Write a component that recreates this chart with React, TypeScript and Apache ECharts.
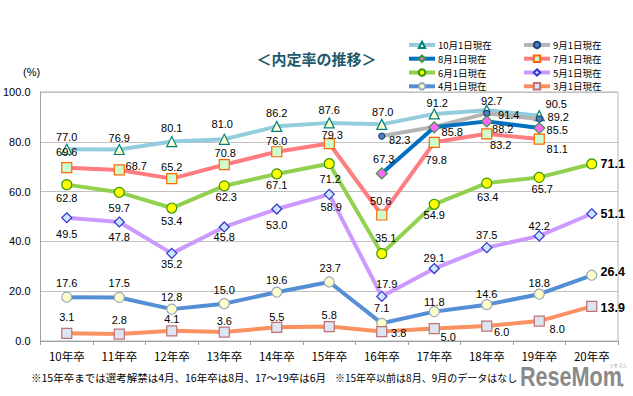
import React, { useEffect, useRef } from "react";
import * as echarts from "echarts";

const categories = ["10年卒", "11年卒", "12年卒", "13年卒", "14年卒", "15年卒", "16年卒", "17年卒", "18年卒", "19年卒", "20年卒"];
const seriesNames = ["10月1日現在", "9月1日現在", "8月1日現在", "7月1日現在", "6月1日現在", "5月1日現在", "4月1日現在", "3月1日現在"];

const oct = [77.0, 76.9, 80.1, 81.0, 86.2, 87.6, 87.0, 91.2, 92.7, 90.5, null];
const sep = [null, null, null, null, null, null, 82.3, 86.0, 91.4, 89.2, null];
const aug = [null, null, null, null, null, null, 67.3, 85.8, 88.2, 85.5, null];
const jul = [69.6, 68.7, 65.2, 70.8, 76.0, 79.3, 50.6, 79.8, 83.2, 81.1, null];
const jun = [62.8, 59.7, 53.4, 62.3, 67.1, 71.2, 35.1, 54.9, 63.4, 65.7, 71.1];
const may = [49.5, 47.8, 35.2, 45.8, 53.0, 58.9, 17.9, 29.1, 37.5, 42.2, 51.1];
const apr = [17.6, 17.5, 12.8, 15.0, 19.6, 23.7, 7.1, 11.8, 14.6, 18.8, 26.4];
const mar = [3.1, 2.8, 4.1, 3.6, 5.5, 5.8, 3.8, 5.0, 6.0, 8.0, 13.9];

// label placement (offset of label centre from marker centre), styling only
const octOff = [[0, -12], [0, -12], [0, -14], [-2, -15], [0, -13], [0, -13], [1, -12], [3, -11], [5, -9], [17, -12], null];
const sepOff = [null, null, null, null, null, null, [18, 4], null, [22, 2], [19, -2], null];
const augOff = [null, null, null, null, null, null, [2, -14], [18, 5], [16, 8], [18, 2], null];
const julOff = [[0, -16], [17, -4], [0, -12], [1, -12], [0, -11], [3, -9], [-1, -14], [2, 18], [14, 11], [18, 10], null];
const junOff = [[0, 13], [0, 16], [0, 13], [2, 11], [0, 11], [1, 15], [4, -16], [0, 11], [1, 14], [3, 12], [21, 0]];
const mayOff = [[0, 16], [0, 15], [0, 11], [0, 10], [0, 16], [2, 13], [5, -12], [0, -11], [0, -13], [0, -10], [21, 0]];
const aprOff = [[0, -14], [0, -14], [0, -12], [0, -14], [0, -12], [1, -14], [0, -15], [0, -10], [0, -11], [0, -11], [21, -3]];
const marOff = [[0, -16], [0, -14], [0, -12], [0, -11], [0, -10], [0, -12], [17, 1], [14, 8], [15, 6], [18, 8], [21, 2]];

const NUM_FONT = "Liberation Sans, Noto Sans CJK JP, sans-serif";
const JP_FONT = "Noto Sans CJK JP, sans-serif";

function build(values: (number | null)[], offs: (number[] | null)[]) {
  return values.map((v, i) => {
    if (v == null) return null;
    const off = offs[i];
    const last = i === values.length - 1;
    return {
      value: v,
      label: {
        show: off != null,
        position: "inside",
        offset: off || [0, 0],
        fontSize: last ? 12.5 : 11,
        fontWeight: last ? "bold" : "normal",
        color: "#000",
        fontFamily: NUM_FONT,
        formatter: (p: any) => Number(p.value).toFixed(1),
      },
    };
  });
}

type Sty = { color: string; symbol: string; size: number; fill: string; border: string };
const styles: Sty[] = [
  { color: "#93cddd", symbol: "triangle", size: 10, fill: "#ffffcc", border: "#008080" },
  { color: "#b4b4b4", symbol: "circle", size: 6, fill: "#4f81bd", border: "#1f3f7f" },
  { color: "#0070c0", symbol: "diamond", size: 11, fill: "#ff66ff", border: "#339933" },
  { color: "#ff7c80", symbol: "rect", size: 10, fill: "#ccffcc", border: "#ff6600" },
  { color: "#92d050", symbol: "circle", size: 10, fill: "#ffff00", border: "#339900" },
  { color: "#cc99ff", symbol: "diamond", size: 10, fill: "#cce6ff", border: "#3333cc" },
  { color: "#558ed5", symbol: "circle", size: 10, fill: "#ffffcc", border: "#99aabb" },
  { color: "#fb9060", symbol: "rect", size: 10, fill: "#dce6f2", border: "#c07070" },
];

export default function App() {
  const ref = useRef<HTMLDivElement>(null);
  useEffect(() => {
    if (!ref.current) return;
    const chart = echarts.init(ref.current, null, { renderer: "svg" });
    const datas = [
      build(oct, octOff),
      build(sep, sepOff),
      build(aug, augOff),
      build(jul, julOff),
      build(jun, junOff),
      build(may, mayOff),
      build(apr, aprOff),
      build(mar, marOff),
    ];
    const series = datas.map((d, k) => ({
      name: seriesNames[k],
      type: "line",
      data: d,
      symbol: styles[k].symbol,
      symbolSize: styles[k].size,
      showAllSymbol: true,
      connectNulls: false,
      lineStyle: { color: styles[k].color, width: 4 },
      itemStyle: { color: styles[k].fill, borderColor: styles[k].border, borderWidth: 1.2 },
      z: 2 + k,
    }));
    const legendCommon = {
      orient: "vertical",
      top: 38,
      itemWidth: 26,
      itemHeight: 8,
      itemGap: 0,
      padding: 0,
      lineStyle: { width: "inherit" },
      textStyle: { fontSize: 9.5, color: "#000", fontFamily: JP_FONT, lineHeight: 13.8, padding: [0, 0, 0, -2] },
    };
    chart.setOption({
      animation: false,
      backgroundColor: "#fff",
      grid: { left: 38, right: 15, top: 92, bottom: 55, show: true, borderColor: "#b4b4b4", borderWidth: 1 },
      legend: [
        { ...legendCommon, left: 407, data: [seriesNames[0], seriesNames[2], seriesNames[4], seriesNames[6]] },
        { ...legendCommon, left: 522, data: [seriesNames[1], seriesNames[3], seriesNames[5], seriesNames[7]] },
      ],
      xAxis: {
        type: "category",
        data: categories,
        boundaryGap: true,
        axisLine: { lineStyle: { color: "#a0a0a0" } },
        axisTick: { show: true, length: 4, lineStyle: { color: "#a0a0a0" } },
        axisLabel: { margin: 9, fontSize: 11.5, color: "#000", fontFamily: JP_FONT },
        splitLine: { show: false },
      },
      yAxis: {
        type: "value",
        min: 0,
        max: 100,
        interval: 20,
        axisLine: { show: true, lineStyle: { color: "#a0a0a0" } },
        axisTick: { show: false },
        axisLabel: { margin: 10, fontSize: 11, color: "#000", fontFamily: NUM_FONT, formatter: (v: number) => v.toFixed(1) },
        splitLine: { lineStyle: { color: "#c0c0c0" } },
      },
      graphic: [
        {
          type: "text",
          left: "center",
          top: 51,
          style: { text: "＜内定率の推移＞", fontSize: 15, fontWeight: "bold", fill: "#1e5a6a", fontFamily: JP_FONT },
        },
        { type: "text", left: 23, top: 66, style: { text: "(%)", fontSize: 11, fill: "#000", fontFamily: NUM_FONT } },
        {
          type: "text",
          left: 31,
          top: 372,
          style: { text: "※15年卒までは選考解禁は4月、16年卒は8月、17～19卒は6月", fontSize: 10.5, fill: "#000", fontFamily: JP_FONT },
        },
        {
          type: "text",
          left: 335,
          top: 372,
          style: { text: "※15年卒以前は8月、9月のデータはなし", fontSize: 10, fill: "#000", fontFamily: JP_FONT },
        },
        {
          type: "text",
          x: 520,
          y: 367,
          scaleX: 0.8,
          style: { text: "ReseMom", fontSize: 27, lineHeight: 20, fontWeight: "bold", fill: "#8a8a8a", fontFamily: "Liberation Sans, sans-serif" },
        },
        { type: "circle", shape: { cx: 622, cy: 385, r: 1.6 }, style: { fill: "#8a8a8a" } },
        { type: "text", x: 609, y: 362, style: { text: "リセマム", fontSize: 4.5, lineHeight: 5, fill: "#999", fontFamily: JP_FONT } },
      ],
      series,
    });
    return () => chart.dispose();
  }, []);
  return <div ref={ref} style={{ position: "fixed", left: 0, top: 0, width: 633, height: 396 }} />;
}
